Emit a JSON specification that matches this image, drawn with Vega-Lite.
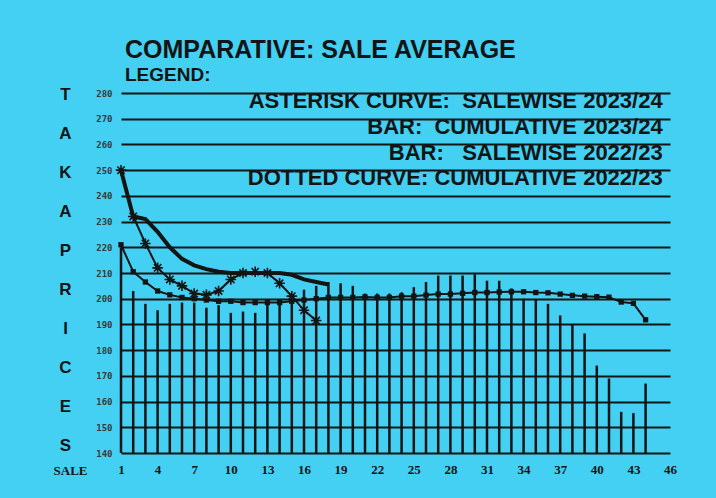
{
  "$schema": "https://vega.github.io/schema/vega-lite/v6.json",
  "width": 549,
  "height": 360,
  "autosize": "none",
  "padding": {"left": 121, "top": 93, "right": 46, "bottom": 45},
  "background": "#43d0f2",
  "config": {
    "view": {"stroke": null},
    "font": "Liberation Sans"
  },
  "title": {
    "text": "COMPARATIVE: SALE AVERAGE",
    "subtitle": "LEGEND:",
    "anchor": "start",
    "frame": "group",
    "dx": 4,
    "offset": 0,
    "font": "Liberation Sans",
    "fontSize": 25,
    "fontWeight": "bold",
    "color": "#141414",
    "subtitleFont": "Liberation Sans",
    "subtitleFontSize": 19,
    "subtitleFontWeight": "bold",
    "subtitleColor": "#141414",
    "subtitlePadding": 3
  },
  "resolve": {"axis": {"x": "independent", "y": "independent"}},
  "datasets": {
    "sales": [
      {"sale": 1, "bar": 220, "cum22": 221, "sw23": 250, "cum23": 250},
      {"sale": 2, "bar": 203, "cum22": 210.5, "sw23": 232, "cum23": 232},
      {"sale": 3, "bar": 198, "cum22": 206.5, "sw23": 221.5, "cum23": 231},
      {"sale": 4, "bar": 195.5, "cum22": 203, "sw23": 212, "cum23": 226},
      {"sale": 5, "bar": 198, "cum22": 201.5, "sw23": 207.5, "cum23": 220},
      {"sale": 6, "bar": 198.5, "cum22": 200.5, "sw23": 205, "cum23": 215.5},
      {"sale": 7, "bar": 198.5, "cum22": 200, "sw23": 202, "cum23": 213},
      {"sale": 8, "bar": 196.5, "cum22": 199.5, "sw23": 201.5, "cum23": 211.5},
      {"sale": 9, "bar": 197.5, "cum22": 199, "sw23": 203, "cum23": 210.5},
      {"sale": 10, "bar": 194.5, "cum22": 199, "sw23": 207.5, "cum23": 210},
      {"sale": 11, "bar": 195, "cum22": 198.5, "sw23": 210, "cum23": 210},
      {"sale": 12, "bar": 194.5, "cum22": 198.5, "sw23": 210.5, "cum23": 210},
      {"sale": 13, "bar": 198, "cum22": 198.5, "sw23": 210, "cum23": 210},
      {"sale": 14, "bar": 198.5, "cum22": 198.5, "sw23": 206, "cum23": 210},
      {"sale": 15, "bar": 199, "cum22": 199, "sw23": 201, "cum23": 209.3},
      {"sale": 16, "bar": 203.5, "cum22": 199.5, "sw23": 195.5, "cum23": 207.5},
      {"sale": 17, "bar": 205, "cum22": 200, "sw23": 191.5, "cum23": 206.5},
      {"sale": 18, "bar": 206.5, "cum22": 200.5, "sw23": null, "cum23": 205.5},
      {"sale": 19, "bar": 206, "cum22": 200.5, "sw23": null, "cum23": null},
      {"sale": 20, "bar": 205, "cum22": 200.5, "sw23": null, "cum23": null},
      {"sale": 21, "bar": 202, "cum22": 200.7, "sw23": null, "cum23": null},
      {"sale": 22, "bar": 202, "cum22": 200.5, "sw23": null, "cum23": null},
      {"sale": 23, "bar": 202, "cum22": 200.5, "sw23": null, "cum23": null},
      {"sale": 24, "bar": 202.5, "cum22": 201, "sw23": null, "cum23": null},
      {"sale": 25, "bar": 204.5, "cum22": 201, "sw23": null, "cum23": null},
      {"sale": 26, "bar": 206.5, "cum22": 201.4, "sw23": null, "cum23": null},
      {"sale": 27, "bar": 209, "cum22": 201.8, "sw23": null, "cum23": null},
      {"sale": 28, "bar": 209, "cum22": 201.8, "sw23": null, "cum23": null},
      {"sale": 29, "bar": 209, "cum22": 202.1, "sw23": null, "cum23": null},
      {"sale": 30, "bar": 209.5, "cum22": 202.4, "sw23": null, "cum23": null},
      {"sale": 31, "bar": 207, "cum22": 202.4, "sw23": null, "cum23": null},
      {"sale": 32, "bar": 207, "cum22": 202.6, "sw23": null, "cum23": null},
      {"sale": 33, "bar": 204, "cum22": 202.7, "sw23": null, "cum23": null},
      {"sale": 34, "bar": 200, "cum22": 202.7, "sw23": null, "cum23": null},
      {"sale": 35, "bar": 199.5, "cum22": 202.4, "sw23": null, "cum23": null},
      {"sale": 36, "bar": 198, "cum22": 202.3, "sw23": null, "cum23": null},
      {"sale": 37, "bar": 193.5, "cum22": 201.8, "sw23": null, "cum23": null},
      {"sale": 38, "bar": 190, "cum22": 201.3, "sw23": null, "cum23": null},
      {"sale": 39, "bar": 186.5, "cum22": 201, "sw23": null, "cum23": null},
      {"sale": 40, "bar": 174, "cum22": 200.8, "sw23": null, "cum23": null},
      {"sale": 41, "bar": 169, "cum22": 200.6, "sw23": null, "cum23": null},
      {"sale": 42, "bar": 156, "cum22": 198.7, "sw23": null, "cum23": null},
      {"sale": 43, "bar": 155.5, "cum22": 198.2, "sw23": null, "cum23": null},
      {"sale": 44, "bar": 167, "cum22": 191.8, "sw23": null, "cum23": null}
    ],
    "legend1": [{"label": "ASTERISK CURVE:\u00a0 SALEWISE 2023/24"}],
    "legend2": [{"label": "BAR:\u00a0 CUMULATIVE 2023/24"}],
    "legend3": [{"label": "BAR:\u00a0\u00a0 SALEWISE 2022/23"}],
    "legend4": [{"label": "DOTTED CURVE: CUMULATIVE 2022/23"}]
  },
  "layer": [
    {
      "data": {"name": "sales"},
      "mark": {"type": "rule", "strokeWidth": 2.5, "color": "#141414"},
      "encoding": {
        "x": {
          "field": "sale",
          "type": "quantitative",
          "scale": {"domain": [1, 46], "nice": false, "zero": false},
          "axis": {
            "values": [1, 4, 7, 10, 13, 16, 19, 22, 25, 28, 31, 34, 37, 40, 43, 46],
            "grid": false,
            "ticks": false,
            "domain": false,
            "labelFont": "Liberation Serif",
            "labelFontSize": 13,
            "labelFontWeight": "bold",
            "labelColor": "#141414",
            "labelPadding": 10,
            "labelFlush": false,
            "labelOverlap": false,
            "title": "SALE",
            "titleFont": "Liberation Serif",
            "titleFontSize": 13,
            "titleFontWeight": "bold",
            "titleColor": "#141414",
            "titleX": -51,
            "titleY": 17,
            "titleAlign": "center",
            "titleBaseline": "middle"
          }
        },
        "y": {
          "field": "bar",
          "type": "quantitative",
          "scale": {"domain": [140, 280], "nice": false, "zero": false},
          "axis": {
            "values": [140, 150, 160, 170, 180, 190, 200, 210, 220, 230, 240, 250, 260, 270, 280],
            "grid": true,
            "gridColor": "#141414",
            "gridWidth": 2,
            "gridOpacity": 1,
            "ticks": false,
            "domain": false,
            "labelFont": "DejaVu Sans Mono",
            "labelFontSize": 9,
            "labelFontWeight": "bold",
            "labelColor": "#3a3a3a",
            "labelPadding": 9,
            "labelFlush": false,
            "labelOverlap": false,
            "title": ["T", "A", "K", "A", "P", "R", "I", "C", "E", "S"],
            "titleAngle": 0,
            "titleFont": "Liberation Sans",
            "titleFontSize": 17,
            "titleFontWeight": "bold",
            "titleColor": "#141414",
            "titleLineHeight": 39,
            "titleX": -56,
            "titleY": -7,
            "titleAlign": "center",
            "titleBaseline": "top"
          }
        },
        "y2": {"datum": 140}
      }
    },
    {
      "data": {"name": "sales"},
      "mark": {
        "type": "line",
        "strokeWidth": 2,
        "color": "#141414",
        "point": {"shape": "square", "filled": true, "size": 28, "color": "#141414"}
      },
      "encoding": {
        "x": {"field": "sale", "type": "quantitative", "axis": null},
        "y": {"field": "cum22", "type": "quantitative", "axis": null}
      }
    },
    {
      "data": {"name": "sales"},
      "mark": {"type": "line", "strokeWidth": 4, "color": "#141414"},
      "encoding": {
        "x": {"field": "sale", "type": "quantitative", "axis": null},
        "y": {"field": "cum23", "type": "quantitative", "axis": null}
      }
    },
    {
      "data": {"name": "sales"},
      "mark": {
        "type": "line",
        "strokeWidth": 2,
        "color": "#141414",
        "point": {
          "shape": "M0,-1L0,1M-1,0L1,0M-0.7,-0.7L0.7,0.7M-0.7,0.7L0.7,-0.7",
          "filled": false,
          "size": 110,
          "strokeWidth": 1.6,
          "color": "#141414"
        }
      },
      "encoding": {
        "x": {"field": "sale", "type": "quantitative", "axis": null},
        "y": {"field": "sw23", "type": "quantitative", "axis": null}
      }
    },
    {
      "data": {"name": "legend1"},
      "mark": {"type": "text", "align": "right", "baseline": "middle", "font": "Liberation Sans", "fontSize": 22, "fontWeight": "bold", "color": "#141414"},
      "encoding": {
        "text": {"field": "label", "type": "nominal"},
        "x": {"datum": 45.4, "type": "quantitative", "axis": null},
        "y": {"datum": 277, "type": "quantitative", "axis": null}
      }
    },
    {
      "data": {"name": "legend2"},
      "mark": {"type": "text", "align": "right", "baseline": "middle", "font": "Liberation Sans", "fontSize": 22, "fontWeight": "bold", "color": "#141414"},
      "encoding": {
        "text": {"field": "label", "type": "nominal"},
        "x": {"datum": 45.4, "type": "quantitative", "axis": null},
        "y": {"datum": 266.6, "type": "quantitative", "axis": null}
      }
    },
    {
      "data": {"name": "legend3"},
      "mark": {"type": "text", "align": "right", "baseline": "middle", "font": "Liberation Sans", "fontSize": 22, "fontWeight": "bold", "color": "#141414"},
      "encoding": {
        "text": {"field": "label", "type": "nominal"},
        "x": {"datum": 45.4, "type": "quantitative", "axis": null},
        "y": {"datum": 256.8, "type": "quantitative", "axis": null}
      }
    },
    {
      "data": {"name": "legend4"},
      "mark": {"type": "text", "align": "right", "baseline": "middle", "font": "Liberation Sans", "fontSize": 22, "fontWeight": "bold", "color": "#141414"},
      "encoding": {
        "text": {"field": "label", "type": "nominal"},
        "x": {"datum": 45.4, "type": "quantitative", "axis": null},
        "y": {"datum": 247, "type": "quantitative", "axis": null}
      }
    }
  ]
}
